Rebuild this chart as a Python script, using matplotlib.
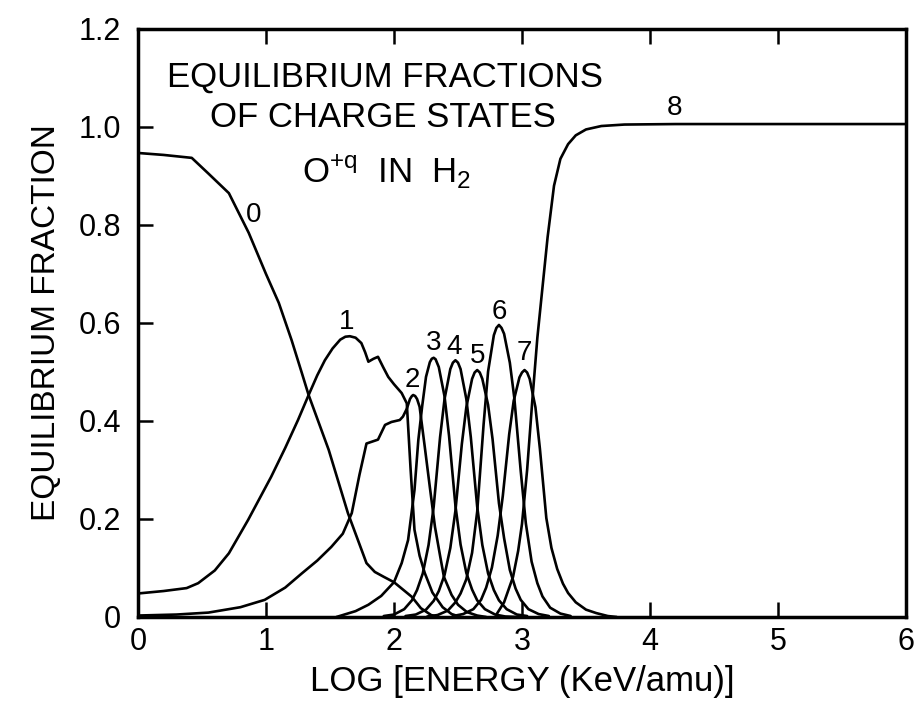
import matplotlib
matplotlib.use("Agg")
import matplotlib.pyplot as plt

plt.rcParams['font.family'] = ['Liberation Sans', 'DejaVu Sans']
plt.rcParams['mathtext.default'] = 'regular'

# ---- data ----
x0 = [0.0, 0.2, 0.42, 0.55, 0.71, 0.865, 1.0, 1.10, 1.20, 1.28, 1.333, 1.49, 1.64,
      1.785, 1.85, 1.92, 2.0, 2.07, 2.14, 2.21, 2.29, 2.35]
y0 = [0.947, 0.943, 0.937, 0.905, 0.865, 0.784, 0.70, 0.641, 0.565, 0.498, 0.453,
      0.341, 0.212, 0.110, 0.092, 0.082, 0.071, 0.056, 0.041, 0.018, 0.004, 0.0]

x1 = [0.0, 0.2, 0.38, 0.47, 0.6, 0.71, 0.86, 1.04, 1.15, 1.25, 1.333, 1.40, 1.46,
      1.52, 1.58, 1.62, 1.655, 1.70, 1.745, 1.775, 1.80, 1.84, 1.875, 1.915, 1.955,
      2.00, 2.06, 2.10, 2.13, 2.16, 2.20, 2.24, 2.30, 2.38, 2.45, 2.52]
y1 = [0.048, 0.053, 0.059, 0.069, 0.095, 0.13, 0.198, 0.286, 0.345, 0.402, 0.453,
      0.493, 0.524, 0.548, 0.566, 0.572, 0.573, 0.57, 0.559, 0.54, 0.521, 0.527,
      0.531, 0.51, 0.49, 0.475, 0.457, 0.436, 0.30, 0.178, 0.125, 0.09, 0.05, 0.02,
      0.006, 0.0]

x2 = [0.0, 0.3, 0.55, 0.8, 0.99, 1.15, 1.28, 1.40, 1.51, 1.60, 1.67, 1.73, 1.785,
      1.83, 1.875, 1.93, 1.98, 2.045, 2.07, 2.10, 2.125, 2.14, 2.15, 2.165, 2.18,
      2.20, 2.24, 2.28, 2.32, 2.36, 2.39, 2.45, 2.50, 2.57, 2.65, 2.72]
y2 = [0.003, 0.005, 0.009, 0.02, 0.035, 0.06, 0.089, 0.115, 0.143, 0.17, 0.212,
      0.29, 0.354, 0.358, 0.362, 0.392, 0.398, 0.402, 0.409, 0.425, 0.445, 0.451,
      0.453, 0.451, 0.445, 0.429, 0.348, 0.265, 0.184, 0.125, 0.082, 0.045, 0.025,
      0.01, 0.003, 0.0]

x3 = [1.55, 1.70, 1.80, 1.90, 2.00, 2.06, 2.11, 2.16, 2.19, 2.22, 2.25, 2.28, 2.295,
      2.31, 2.325, 2.35, 2.395, 2.43, 2.48, 2.52, 2.565, 2.61, 2.65, 2.71, 2.79,
      2.87, 2.96]
y3 = [0.0, 0.012, 0.025, 0.043, 0.071, 0.11, 0.157, 0.259, 0.361, 0.43, 0.49, 0.52,
      0.527, 0.529, 0.526, 0.51, 0.45, 0.37, 0.227, 0.148, 0.09, 0.056, 0.034,
      0.016, 0.005, 0.001, 0.0]

x4 = [1.92, 2.00, 2.08, 2.14, 2.18, 2.225, 2.27, 2.31, 2.36, 2.395, 2.44, 2.46,
      2.48, 2.50, 2.52, 2.565, 2.60, 2.65, 2.69, 2.735, 2.78, 2.82, 2.88, 2.96, 3.04]
y4 = [0.002, 0.005, 0.016, 0.034, 0.055, 0.089, 0.147, 0.225, 0.367, 0.445, 0.506,
      0.519, 0.524, 0.519, 0.506, 0.445, 0.367, 0.225, 0.147, 0.089, 0.055, 0.034,
      0.016, 0.005, 0.002]

x5 = [2.09, 2.17, 2.25, 2.31, 2.35, 2.395, 2.44, 2.48, 2.53, 2.565, 2.61, 2.63,
      2.65, 2.67, 2.69, 2.735, 2.77, 2.82, 2.86, 2.905, 2.95, 2.99, 3.05, 3.13, 3.21]
y5 = [0.002, 0.005, 0.015, 0.033, 0.053, 0.086, 0.141, 0.217, 0.353, 0.428, 0.486,
      0.499, 0.504, 0.499, 0.486, 0.433, 0.363, 0.232, 0.161, 0.096, 0.058, 0.035,
      0.016, 0.006, 0.002]

x6 = [2.26, 2.34, 2.42, 2.48, 2.52, 2.565, 2.61, 2.65, 2.70, 2.735, 2.78, 2.80,
      2.82, 2.84, 2.86, 2.905, 2.94, 2.99, 3.03, 3.075, 3.12, 3.16, 3.22, 3.30, 3.38]
y6 = [0.001, 0.004, 0.013, 0.030, 0.048, 0.077, 0.131, 0.215, 0.393, 0.501, 0.575,
      0.590, 0.596, 0.590, 0.578, 0.519, 0.447, 0.298, 0.191, 0.113, 0.069, 0.042,
      0.019, 0.007, 0.002]

x7 = [2.46, 2.54, 2.62, 2.68, 2.72, 2.765, 2.81, 2.85, 2.90, 2.935, 2.98, 3.00,
      3.02, 3.04, 3.06, 3.105, 3.14, 3.19, 3.23, 3.275, 3.32, 3.36, 3.42, 3.50,
      3.58, 3.67, 3.74]
y7 = [0.002, 0.006, 0.016, 0.035, 0.060, 0.101, 0.166, 0.247, 0.373, 0.441, 0.489,
      0.499, 0.504, 0.499, 0.486, 0.428, 0.343, 0.202, 0.141, 0.098, 0.068, 0.049,
      0.030, 0.015, 0.008, 0.002, 0.0]

x8 = [2.80, 2.86, 2.93, 2.97, 3.0, 3.04, 3.08, 3.12, 3.15, 3.20, 3.25, 3.30, 3.36,
      3.42, 3.50, 3.62, 3.8, 4.2, 6.0]
y8 = [0.005, 0.03, 0.082, 0.135, 0.19, 0.30, 0.44, 0.57, 0.647, 0.775, 0.88, 0.935,
      0.965, 0.983, 0.995, 1.002, 1.005, 1.006, 1.006]

curves = [(x0, y0), (x1, y1), (x2, y2), (x3, y3), (x4, y4),
          (x5, y5), (x6, y6), (x7, y7), (x8, y8)]

curve_labels = ['0', '1', '2', '3', '4', '5', '6', '7', '8']
label_x = [0.90, 1.63, 2.14, 2.31, 2.47, 2.65, 2.82, 3.02, 4.19]
label_y = [0.82, 0.602, 0.484, 0.559, 0.551, 0.533, 0.622, 0.539, 1.039]

xticks = [0, 1, 2, 3, 4, 5, 6]
xtick_labels = ['0', '1', '2', '3', '4', '5', '6']
yticks = [0, 0.2, 0.4, 0.6, 0.8, 1.0, 1.2]
ytick_labels = ['0', '0.2', '0.4', '0.6', '0.8', '1.0', '1.2']

title_lines = ['EQUILIBRIUM FRACTIONS', 'OF CHARGE STATES', r'O$^{+q}$  IN  H$_2$']
title_x = [1.929, 1.913, 1.94]
title_y = [1.082, 1.0, 0.888]

# ---- figure ----
fig = plt.figure(figsize=(9.15, 7.06), dpi=100)
ax = fig.add_axes([138 / 915, 89 / 706, (906 - 138) / 915, (617 - 29) / 706])

for xs, ys in curves:
    ax.plot(xs, ys, color='black', lw=1.9, solid_joinstyle='round',
            solid_capstyle='round')

for t, lx, ly in zip(curve_labels, label_x, label_y):
    ax.text(lx, ly, t, ha='center', va='center', fontsize=20)

for t, tx, ty in zip(title_lines, title_x, title_y):
    ax.text(tx, ty, t, ha='center', va='baseline', fontsize=25)

ax.set_xlim(0, 6)
ax.set_ylim(0, 1.2)
ax.set_xticks(xticks)
ax.set_xticklabels(xtick_labels)
ax.set_yticks(yticks)
ax.set_yticklabels(ytick_labels)

for s in ax.spines.values():
    s.set_linewidth(2.5)

ax.tick_params(axis='both', direction='in', length=11, width=1.8,
               labelsize=22, top=True, right=False)
ax.tick_params(axis='x', pad=7)
ax.tick_params(axis='y', pad=12)

ax.set_xlabel('LOG [ENERGY (KeV/amu)]', fontsize=25, labelpad=6)
ax.set_ylabel('EQUILIBRIUM FRACTION', fontsize=24, labelpad=12)

fig.savefig('out.png', dpi=100)
